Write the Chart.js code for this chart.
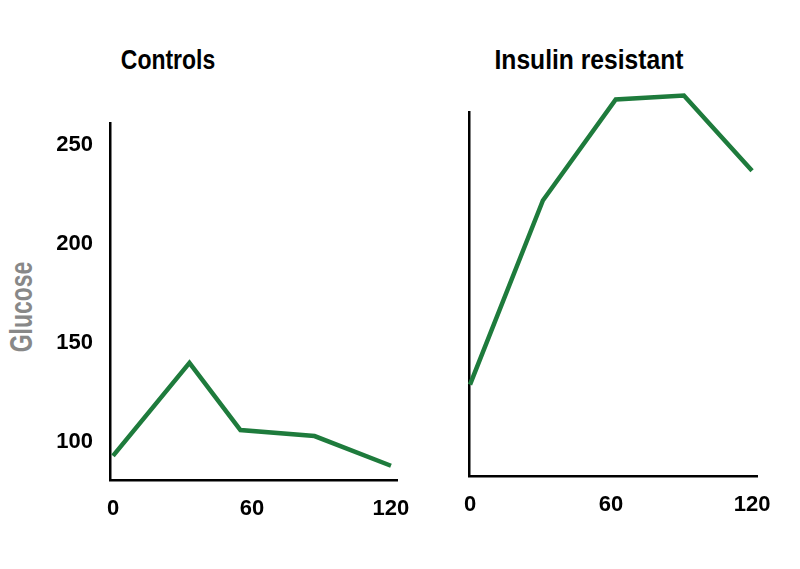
<!DOCTYPE html>
<html>
<head>
<meta charset="utf-8">
<script src="https://cdn.jsdelivr.net/npm/chart.js@4"></script>
<style>
  body { margin: 0; background: #fff; width: 800px; height: 569px; position: relative; overflow: hidden; }
  canvas { position: absolute; top: 0; }
  #leftChart { left: 0; }
  #rightChart { left: 430px; }
  .label { position: absolute; font-family: "Liberation Sans", Arial, sans-serif; font-weight: bold; white-space: nowrap; line-height: 1; }
  .title { font-size: 28px; color: #000; top: 46px; }
  #glucose { font-size: 31px; color: #888; left: 21px; top: 307px; transform: translate(-50%, -50%) rotate(-90deg) scaleX(0.74); }
</style>
</head>
<body>
<div class="label title" style="left:168px; transform: translateX(-50%) scaleX(0.82)">Controls</div>
<div class="label title" style="left:589px; transform: translateX(-50%) scaleX(0.88)">Insulin resistant</div>
<div class="label" id="glucose">Glucose</div>
<canvas id="leftChart" width="430" height="569"></canvas>
<canvas id="rightChart" width="370" height="569"></canvas>
<script>
// data (minutes, glucose)
const timeControls = [0, 33, 55, 87, 120];
const glucoseControls = [93, 140, 106, 103, 88];
const timeResistant = [0, 31, 62, 91, 120];
const glucoseResistant = [129, 222, 273, 275, 237];
const yTicks = [100, 150, 200, 250];
const xTicks = [0, 60, 120];

Chart.defaults.font.family = '"Liberation Sans", Arial, sans-serif';
Chart.defaults.color = '#000';

const GREEN = '#1e7b3c';

function points(xs, ys) {
    return xs.map((x, i) => ({x: x, y: ys[i]}));
}

function makeChart(id, xs, ys, opt) {
    return new Chart(document.getElementById(id), {
        type: 'line',
        data: {
            datasets: [{
                data: points(xs, ys),
                borderColor: GREEN,
                borderWidth: 4.5,
                pointRadius: 0,
                tension: 0,
                borderJoinStyle: 'miter',
                clip: false
            }]
        },
        options: {
            responsive: false,
            animation: false,
            layout: {padding: opt.padding},
            plugins: {legend: {display: false}, tooltip: {enabled: false}},
            scales: {
                x: {
                    type: 'linear',
                    min: opt.xMin, max: opt.xMax,
                    afterBuildTicks: s => { s.ticks = xTicks.map(v => ({value: v})); },
                    afterFit: s => { s.height = opt.xHeight; s.paddingLeft = 0; s.paddingRight = 0; },
                    grid: {display: false, drawTicks: false},
                    border: {display: true, color: '#000', width: 2.5},
                    ticks: {font: {size: 22, weight: 'bold'}, padding: 16, maxRotation: 0}
                },
                y: {
                    min: opt.yMin, max: opt.yMax,
                    afterBuildTicks: s => { s.ticks = yTicks.map(v => ({value: v})); },
                    afterFit: s => { s.width = opt.yWidth; s.paddingTop = 0; s.paddingBottom = 0; },
                    grid: {display: false, drawTicks: false},
                    border: {display: true, color: '#000', width: 2.5},
                    ticks: {display: opt.yLabels, font: {size: 22, weight: 'bold'}, padding: 17}
                }
            }
        }
    });
}

// Controls
makeChart('leftChart', timeControls, glucoseControls, {
    padding: {top: 123, right: 33, left: 0, bottom: 0},
    xMin: -1.3, xMax: 122.6, yMin: 80.8, yMax: 261.1,
    xHeight: 89, yWidth: 110, yLabels: true
});

// Insulin resistant
makeChart('rightChart', timeResistant, glucoseResistant, {
    padding: {top: 112, right: 43, left: 0, bottom: 0},
    xMin: -0.43, xMax: 122.1, yMin: 82.8, yMax: 266.7,
    xHeight: 93, yWidth: 39, yLabels: false
});
</script>
</body>
</html>
